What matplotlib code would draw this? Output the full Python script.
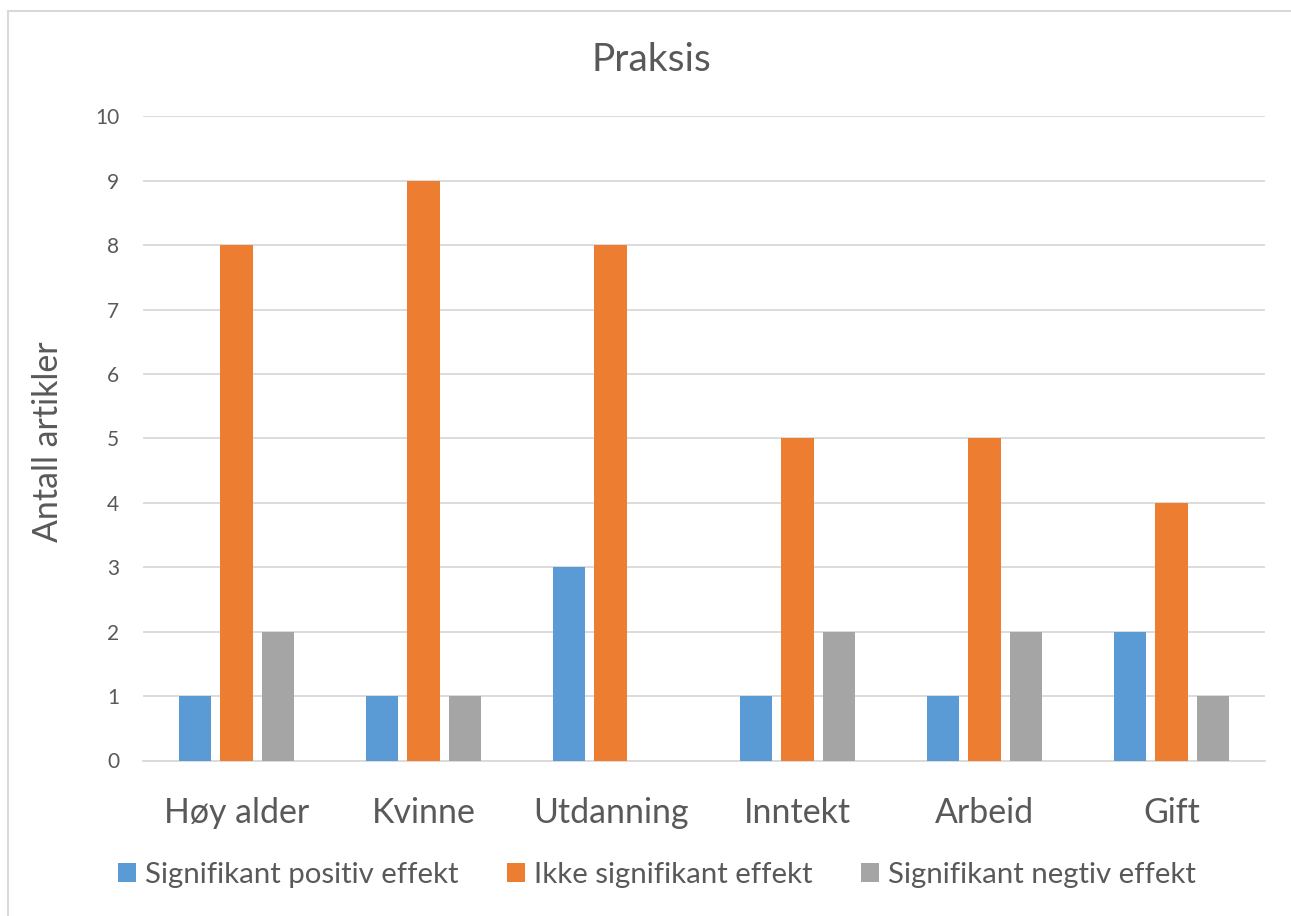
import matplotlib
matplotlib.use("Agg")
import matplotlib.pyplot as plt
import numpy as np
from matplotlib.patches import Rectangle

categories = ["Høy alder", "Kvinne", "Utdanning", "Inntekt", "Arbeid", "Gift"]
positive = [1, 1, 3, 1, 1, 2]
nonsig = [8, 9, 8, 5, 5, 4]
negative = [2, 1, 0, 2, 2, 1]
series_names = ["Signifikant positiv effekt", "Ikke signifikant effekt", "Signifikant negtiv effekt"]
colors = ["#5B9BD5", "#ED7D31", "#A5A5A5"]
yticks = list(range(0, 11))

plt.rcParams['font.family'] = ['Lato', 'DejaVu Sans']
txt = "#595959"

W, H = 1291, 916
fig = plt.figure(figsize=(W / 100, H / 100), dpi=100)
fig.patches.append(Rectangle((8 / W, -0.1), 1.2, (H - 11) / H + 0.1, transform=fig.transFigure,
                             fill=False, edgecolor="#D9D9D9", linewidth=1.5))

left, right, y0, y10 = 143, 1265, 760.5, 116.3
ax = fig.add_axes([left / W, (H - y0) / H, (right - left) / W, (y0 - y10) / H])

x = np.arange(len(categories))
bw = 0.174
off = 0.222
for i, (vals, c, n) in enumerate(zip([positive, nonsig, negative], colors, series_names)):
    ax.bar(x + (i - 1) * off, vals, width=bw, color=c, label=n, zorder=3)

ax.set_xlim(-0.5, len(categories) - 0.5)
ax.set_ylim(0, 10)
ax.set_yticks(yticks)
ax.set_yticklabels([str(t) for t in yticks], fontsize=15, color=txt)
ax.set_xticks(x)
ax.set_xticklabels(categories, fontsize=24.4, color=txt)
ax.tick_params(axis='both', length=0)
ax.tick_params(axis='y', pad=17)
ax.tick_params(axis='x', pad=26)
ax.grid(axis='y', color="#D9D9D9", linewidth=1.3, zorder=0)
for s in ["top", "right", "left"]:
    ax.spines[s].set_visible(False)
ax.spines["bottom"].set_color("#D9D9D9")
ax.spines["bottom"].set_linewidth(1.3)

fig.text(651 / W, 1 - 60 / H, "Praksis", ha="center", va="center", fontsize=28, color=txt)
fig.text(48 / W, 1 - 442 / H, "Antall artikler", ha="center", va="center", rotation=90,
         fontsize=24.4, color=txt)

leg = fig.legend(loc="center", bbox_to_anchor=(657 / W, 1 - 875 / H), ncol=3, frameon=False,
                 fontsize=21.2, handlelength=0.61, handleheight=0.61, handletextpad=0.3,
                 columnspacing=1.66, labelcolor=txt, borderpad=0, borderaxespad=0)

fig.savefig("out.png", dpi=100, facecolor="white")
